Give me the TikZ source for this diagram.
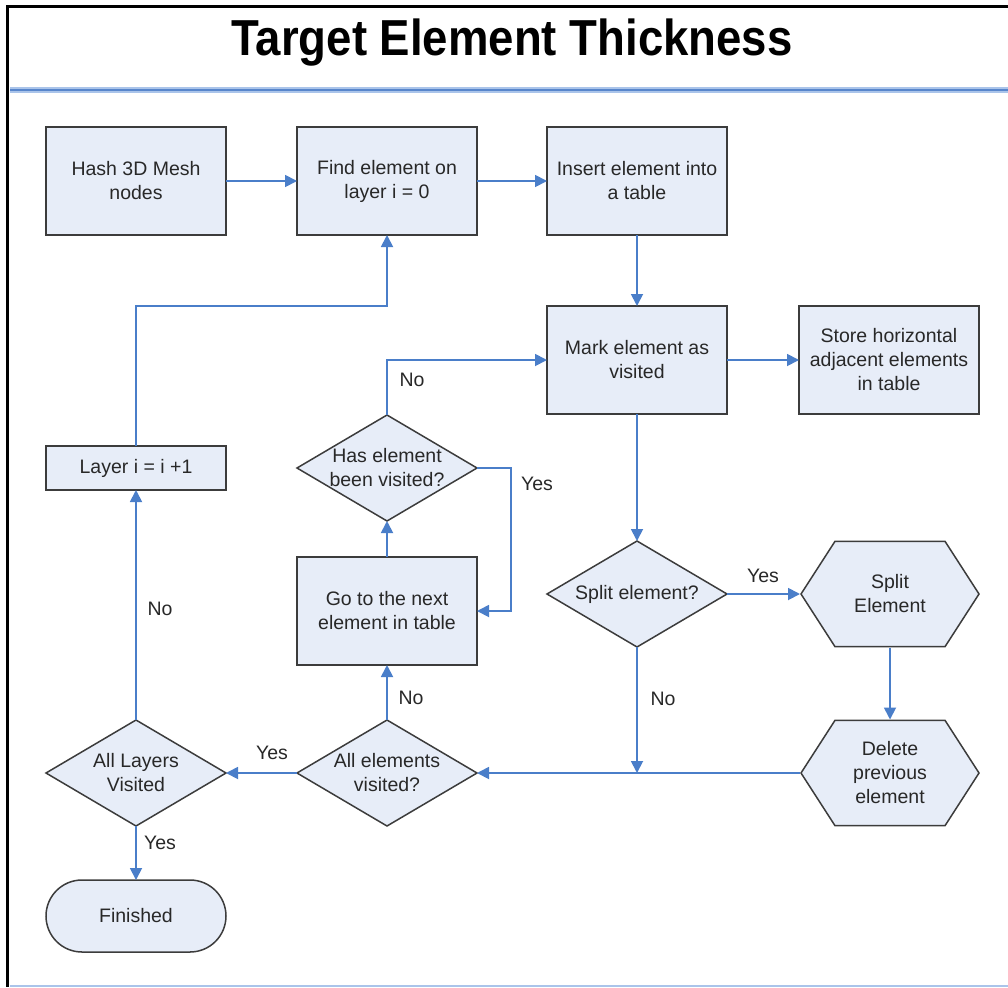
\documentclass[tikz,border=0pt]{standalone}
\usepackage{fontspec}
\setmainfont{Liberation Sans}
\usetikzlibrary{shapes.geometric,arrows.meta}
\definecolor{boxfill}{RGB}{231,237,248}
\definecolor{boxline}{RGB}{60,60,60}
\definecolor{arrowblue}{RGB}{74,126,201}
\definecolor{txtgray}{RGB}{40,40,40}
\definecolor{rulelight}{RGB}{170,196,234}
\definecolor{ruledark}{RGB}{88,134,204}
\tikzset{
  base/.style={draw=boxline, line width=1.8pt, fill=boxfill, text=txtgray,
    font=\fontsize{19.5}{24}\selectfont, align=center, inner sep=2pt, outer sep=0pt},
  procbox/.style={base, rectangle, minimum width=180pt, minimum height=108pt},
  smallbox/.style={base, rectangle, minimum width=180pt, minimum height=44pt},
  dia/.style={base, diamond, minimum width=180pt, minimum height=106pt, inner sep=0pt, line width=1.5pt},
  diatext/.style={text=txtgray, font=\fontsize{19.5}{24}\selectfont, align=center, inner sep=0pt},
  hexa/.style={base, rectangle, draw=none, fill=none, minimum width=180pt, minimum height=107pt,
    path picture={
      \draw[boxline, line width=1.5pt, fill=boxfill, line join=miter]
        ([xshift=1pt]path picture bounding box.west)
        -- ([xshift=35pt,yshift=-0.8pt]path picture bounding box.north west)
        -- ([xshift=-35pt,yshift=-0.8pt]path picture bounding box.north east)
        -- ([xshift=-1pt]path picture bounding box.east)
        -- ([xshift=-35pt,yshift=0.8pt]path picture bounding box.south east)
        -- ([xshift=35pt,yshift=0.8pt]path picture bounding box.south west)
        -- cycle;
    }},
  stadium/.style={base, rectangle, rounded corners=36pt, minimum width=180pt, minimum height=72pt, line width=1.5pt},
  arr/.style={draw=arrowblue, line width=1.8pt, -{Triangle[length=12pt,width=12pt]}},
  lbl/.style={text=txtgray, font=\fontsize{19.5}{24}\selectfont, inner sep=0pt},
}
\begin{document}
\begin{tikzpicture}[x=1pt,y=-1pt]
\useasboundingbox (0,0) rectangle (1008,987);
% frame
\draw[line width=3.5pt, black] (1008,6.5) -- (7.5,6.5) -- (7.5,987);
\draw[line width=6pt, rulelight] (10,90) -- (1008,90);
\draw[line width=2.5pt, ruledark] (10,90) -- (1008,90);
\draw[line width=2pt, rulelight] (10,986) -- (1008,986);
% title
\node[anchor=base, font=\bfseries\fontsize{46}{50}\selectfont, inner sep=0pt] (title) at (512,56)
  {\scalebox{0.99}[1.1]{Target Element Thickness}};
% nodes
\node[procbox] (hash) at (136,181) {Hash 3D Mesh\\nodes};
\node[procbox] (find) at (387,181) {Find element on\\layer i = 0};
\node[procbox] (ins) at (637,181) {Insert element into\\a table};
\node[procbox] (mark) at (637,360) {Mark element as\\visited};
\node[procbox] (store) at (889,360) {Store horizontal\\adjacent elements\\in table};
\node[smallbox] (layer) at (136,468) {Layer i = i +1};
\node[dia, label={[diatext]center:Has element\\been visited?}] (hev) at (387,468) {};
\node[procbox] (go) at (387,611) {Go to the next\\element in table};
\node[dia, label={[diatext]center:Split element?}] (splitq) at (637,594) {};
\node[hexa] (splite) at (890,594) {Split\\Element};
\node[hexa] (del) at (890,773) {Delete\\previous\\element};
\node[dia, label={[diatext]center:All elements\\visited?}] (alle) at (387,773) {};
\node[dia, label={[diatext]center:All Layers\\Visited}] (alll) at (136,773) {};
\node[stadium] (fin) at (136,916) {Finished};
% helper coordinates
\coordinate (lp) at (136,306);
\coordinate (hy) at (511,611);
\coordinate (jn) at (637,773);
% connectors
\draw[arr] (hash) -- (find);
\draw[arr] (find) -- (ins);
\draw[arr] (ins) -- (mark);
\draw[arr] (mark) -- (store);
\draw[arr] (mark) -- (splitq);
\draw[arr] (splitq) -- (splite.west);
\draw[arr] (splite) -- (del);
\draw[arr] (splitq.south) -- (jn);
\draw[arr] (del.west) -- (alle.east);
\draw[arr] (alle) -- (go);
\draw[arr] (alle) -- (alll);
\draw[arr] (alll) -- (fin);
\draw[arr] (alll) -- (layer);
\draw[arr] (layer.north) -- (lp) -| (find.south);
\draw[arr] (go) -- (hev);
\draw[arr] (hev.east) -| (hy) -- (go.east);
\draw[arr] (hev.north) |- (mark.west);
% labels
\node[lbl] (l1) at (763,576) {Yes};
\node[lbl] (l2) at (663,699) {No};
\node[lbl] (l3) at (411,698) {No};
\node[lbl] (l4) at (272,753) {Yes};
\node[lbl] (l5) at (160,843) {Yes};
\node[lbl] (l6) at (160,609) {No};
\node[lbl] (l7) at (537,484) {Yes};
\node[lbl] (l8) at (412,380) {No};
\end{tikzpicture}
\end{document}
